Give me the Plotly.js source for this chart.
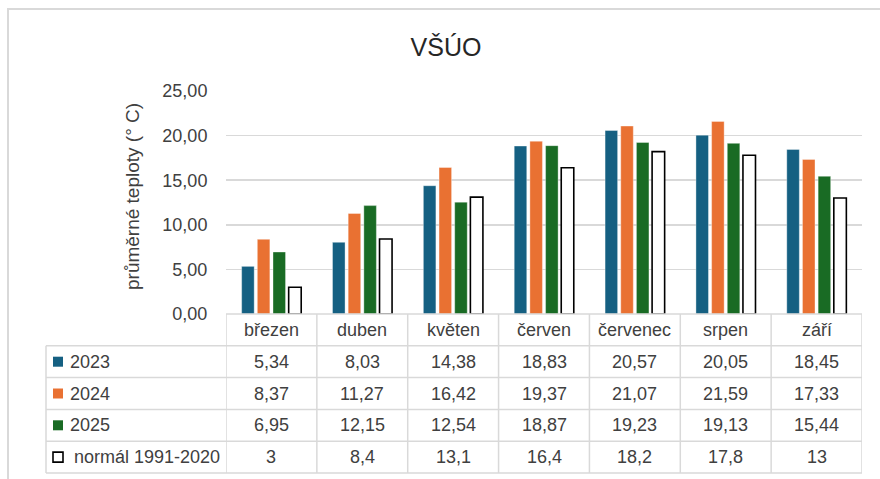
<!DOCTYPE html>
<html>
<head>
<meta charset="utf-8">
<script src="https://cdn.plot.ly/plotly-3.0.1.min.js"></script>
<style>html,body{margin:0;padding:0;background:#fff;}#chart{width:880px;height:479px;}</style>
</head>
<body>
<div id="chart"></div>
<script>
const months = ["březen", "duben", "květen", "červen", "červenec", "srpen", "září"];
const seriesNames = ["2023", "2024", "2025", "normál 1991-2020"];
const v2023 = [5.34, 8.03, 14.38, 18.83, 20.57, 20.05, 18.45];
const v2024 = [8.37, 11.27, 16.42, 19.37, 21.07, 21.59, 17.33];
const v2025 = [6.95, 12.15, 12.54, 18.87, 19.23, 19.13, 15.44];
const vNormal = [3, 8.4, 13.1, 16.4, 18.2, 17.8, 13];
const yTicks = [0, 5, 10, 15, 20, 25];
const chartTitle = "VŠÚO";
const yTitle = "průměrné teploty (° C)";

const colors = ["#156082", "#E97132", "#196B24", "#FFFFFF"];
const allValues = [v2023, v2024, v2025, vNormal];

const W = 880, H = 479;
const M = {l: 226, r: 18, t: 91, b: 165};
const plotH = H - M.t - M.b;
const plotW = W - M.l - M.r;
const FONT = "Liberation Sans, Arial, sans-serif";
const TXT = "#404040";
const GRID = "#d9d9d9";
const FS = 18;

function py(p) { return (H - M.b - p) / plotH; }
function px(p) { return (p - M.l) / plotW; }

const xIdx = months.map((m, i) => i);

const traces = allValues.map((vals, k) => ({
  type: "bar",
  x: xIdx,
  y: vals,
  name: seriesNames[k],
  marker: {
    color: colors[k],
    line: k === 3 ? {color: "#000000", width: 1.6} : {color: "rgba(255,255,255,0.6)", width: 0.6}
  },
  hoverinfo: "skip"
}));

const shapes = [];
const annotations = [];

// outer frame
shapes.push({type: "rect", xref: "paper", yref: "paper", x0: px(8), x1: px(900), y0: py(500), y1: py(9),
  line: {color: GRID, width: 2}, fillcolor: "rgba(0,0,0,0)", layer: "below"});

// table rows (pixel y)
const headerTop = 314, rowH = 31.8;
const rowYs = [headerTop];
for (let i = 1; i <= 5; i++) rowYs.push(headerTop + i * rowH);
const tableLeft = 46;

// horizontal lines
shapes.push({type: "line", xref: "x", yref: "paper", x0: -0.5, x1: months.length - 0.5, y0: py(rowYs[0]), y1: py(rowYs[0]), line: {color: GRID, width: 1.5}});
for (let i = 1; i < rowYs.length; i++) {
  shapes.push({type: "line", xref: "paper", yref: "paper", x0: px(tableLeft), x1: 1, y0: py(rowYs[i]), y1: py(rowYs[i]), line: {color: GRID, width: 1.5}});
}
// vertical lines
shapes.push({type: "line", xref: "paper", yref: "paper", x0: px(tableLeft), x1: px(tableLeft), y0: py(rowYs[1]), y1: py(rowYs[5]), line: {color: GRID, width: 1.5}});
for (let i = 0; i <= months.length; i++) {
  shapes.push({type: "line", xref: "x", yref: "paper", x0: i - 0.5, x1: i - 0.5, y0: py(rowYs[0]), y1: py(rowYs[5]), line: {color: GRID, width: 1.5}});
}

// header labels
months.forEach((m, i) => {
  annotations.push({xref: "x", yref: "paper", x: i, y: py(rowYs[0] + rowH / 2), text: m, showarrow: false,
    font: {family: FONT, size: FS, color: TXT}, xanchor: "center", yanchor: "middle"});
});

// rows
const fmt = v => String(v).replace(".", ",");
allValues.forEach((vals, k) => {
  const cy = rowYs[k + 1] + rowH / 2;
  const sq = 10;
  const kx0 = 53, kx1 = kx0 + sq;
  shapes.push({type: "rect", xref: "paper", yref: "paper", x0: px(kx0), x1: px(kx1), y0: py(cy + sq / 2), y1: py(cy - sq / 2),
    fillcolor: colors[k], line: k === 3 ? {color: "#000000", width: 1.6} : {width: 0}});
  annotations.push({xref: "paper", yref: "paper", x: px(k === 3 ? 72 : 68), y: py(cy), text: seriesNames[k], showarrow: false,
    font: {family: FONT, size: FS, color: TXT}, xanchor: "left", yanchor: "middle"});
  vals.forEach((v, i) => {
    annotations.push({xref: "x", yref: "paper", x: i, y: py(cy), text: fmt(v), showarrow: false,
      font: {family: FONT, size: FS, color: TXT}, xanchor: "center", yanchor: "middle"});
  });
});

// y axis title
annotations.push({xref: "paper", yref: "paper", x: px(132), y: py(197), text: yTitle, textangle: -90, showarrow: false,
  font: {family: FONT, size: 19, color: TXT}, xanchor: "center", yanchor: "middle"});

const layout = {
  width: W, height: H,
  margin: M,
  paper_bgcolor: "#ffffff",
  plot_bgcolor: "#ffffff",
  separators: ", ",
  showlegend: false,
  barmode: "group",
  bargap: 0.31,
  bargroupgap: 0.2,
  title: {text: chartTitle, x: 446 / W, xref: "container", xanchor: "center", y: 1 - 47 / H, yref: "container", yanchor: "middle",
    font: {family: FONT, size: 25, color: "#262626"}},
  xaxis: {type: "linear", range: [-0.5, months.length - 0.5], showticklabels: false, showgrid: false, zeroline: false, showline: false, ticks: "", fixedrange: true},
  yaxis: {range: [0, 25], tickvals: yTicks, tickformat: ".2f", showgrid: true, gridcolor: GRID, gridwidth: 1.5, zeroline: false, showline: false,
    ticks: "outside", ticklen: 14, tickcolor: "rgba(0,0,0,0)", tickfont: {family: FONT, size: FS, color: TXT}, fixedrange: true},
  shapes: shapes,
  annotations: annotations
};

Plotly.newPlot("chart", traces, layout, {displayModeBar: false, staticPlot: true});
</script>
</body>
</html>
